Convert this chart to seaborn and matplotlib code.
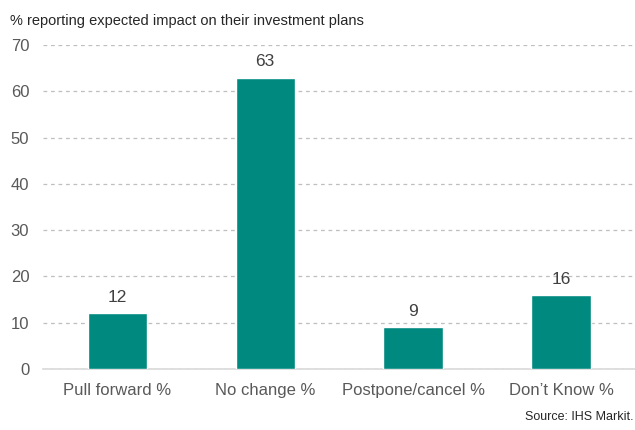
import matplotlib
matplotlib.use("Agg")
import matplotlib.pyplot as plt
import seaborn as sns
import pandas as pd

categories = ["Pull forward %", "No change %", "Postpone/cancel %", "Don\u2019t Know %"]
values = [12, 63, 9, 16]
y_ticks = [0, 10, 20, 30, 40, 50, 60, 70]

sns.set_style("white")
plt.rcParams["font.family"] = ["Liberation Sans", "DejaVu Sans"]

text_color = "#595959"
bar_color = "#00897F"

df = pd.DataFrame({"category": categories, "value": values})

fig = plt.figure(figsize=(6.35, 4.30), dpi=100)
ax = fig.add_axes([0.068, 0.142, 0.932, 0.753])

sns.barplot(data=df, x="category", y="value", color=bar_color, width=0.4,
            saturation=1, ax=ax, zorder=3)

ax.set_ylim(0, 70)
ax.set_yticks(y_ticks)
ax.yaxis.grid(True, linestyle=(0, (3, 3)), color="#BFBFBF", linewidth=0.9, zorder=0)
ax.set_axisbelow(True)
for side in ["top", "right", "left"]:
    ax.spines[side].set_visible(False)
ax.spines["bottom"].set_color("#D9D9D9")
ax.spines["bottom"].set_linewidth(1.2)
ax.tick_params(axis="both", length=0, colors=text_color, labelsize=12)
ax.tick_params(axis="x", pad=10)
ax.tick_params(axis="y", pad=10)
ax.set_xlabel("")
ax.set_ylabel("")

for container in ax.containers:
    ax.bar_label(container, labels=[str(v) for v in values], padding=6,
                 color="#404040", fontsize=12.5)

fig.text(0.016, 0.952, "% reporting expected impact on their investment plans",
         color="#262626", fontsize=10.5, ha="left", va="center")
fig.text(0.998, 0.03, "Source: IHS Markit.", color="#262626", fontsize=9,
         ha="right", va="center")

fig.savefig("out.png", dpi=100)
